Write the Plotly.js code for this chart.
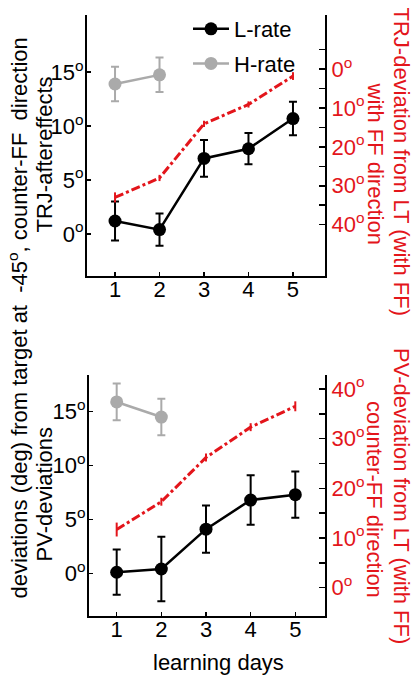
<!DOCTYPE html>
<html>
<head>
<meta charset="utf-8">
<script src="https://cdn.plot.ly/plotly-3.0.1.min.js"></script>
<style>html,body{margin:0;padding:0;background:#fff;}#chart{width:417px;height:679px;}</style>
</head>
<body>
<div id="chart"></div>
<script>
// ---- data ----
const days = [1, 2, 3, 4, 5];
const hDays = [1, 2];

// top panel: TRJ aftereffects (left axis) and TRJ-deviation (right, red)
const trjL = [1.2, 0.4, 7.0, 7.9, 10.7];
const trjLErr = [1.8, 1.5, 1.7, 1.45, 1.55];
const trjH = [13.9, 14.75];
const trjHErr = [1.6, 1.6];
const trjDev = [33.0, 28.0, 14.1, 9.1, 1.8];
const trjDevErr = [1.3, 0.8, 0.8, 0.8, 1.0];

// bottom panel: PV deviations (left axis) and PV-deviation (right, red)
const pvL = [0.1, 0.4, 4.1, 6.8, 7.3];
const pvLErr = [2.1, 3.0, 2.2, 2.3, 2.15];
const pvH = [15.9, 14.5];
const pvHErr = [1.7, 1.7];
const pvDev = [11.7, 17.3, 26.2, 32.3, 36.5];
const pvDevErr = [1.4, 0.8, 0.8, 0.8, 1.0];

// tick labels
const leftTickVals = [0, 5, 10, 15];
const leftTickText = ["0<sup>o</sup>", "5<sup>o</sup>", "10<sup>o</sup>", "15<sup>o</sup>"];
const rightTickVals = [0, 10, 20, 30, 40];
const rightTickText = ["0<sup>o</sup>", "10<sup>o</sup>", "20<sup>o</sup>", "30<sup>o</sup>", "40<sup>o</sup>"];
const topRightMinorVals = [-5, 5, 15, 25, 35];
const botRightMinorVals = [5, 15, 25, 35];

// ---- styling ----
const W = 417, H = 679;
const px = x => x / W;
const py = y => 1 - y / H;
const RED = "#e3151b";
const GRAY = "#aaaaaa";
const FONT = "Arial, 'Liberation Sans', sans-serif";
const FS = 22;

function redTrace(y, err, xa, ya) {
  return {x: days, y: y, xaxis: xa, yaxis: ya, type: "scatter", mode: "lines",
    line: {color: RED, width: 3, dash: "dashdot"}, showlegend: false,
    error_y: {type: "data", array: err, color: RED, thickness: 2, width: 0}};
}
function blackTrace(y, err, xa, ya, legend) {
  return {x: days, y: y, xaxis: xa, yaxis: ya, type: "scatter", mode: "lines+markers", name: "L-rate",
    legendgroup: "L", line: {color: "#000", width: 2.5}, marker: {color: "#000", size: 13},
    showlegend: legend,
    error_y: {type: "data", array: err, color: "#000", thickness: 2, width: 4}};
}
function grayTrace(y, err, xa, ya, legend) {
  return {x: hDays, y: y, xaxis: xa, yaxis: ya, type: "scatter", mode: "lines+markers", name: "H-rate",
    legendgroup: "H", line: {color: GRAY, width: 2.5}, marker: {color: GRAY, size: 13},
    showlegend: legend,
    error_y: {type: "data", array: err, color: GRAY, thickness: 2, width: 4}};
}

const traces = [
  redTrace(trjDev, trjDevErr, "x", "y2"),
  blackTrace(trjL, trjLErr, "x", "y", true),
  grayTrace(trjH, trjHErr, "x", "y", true),
  redTrace(pvDev, pvDevErr, "x2", "y4"),
  blackTrace(pvL, pvLErr, "x2", "y3", false),
  grayTrace(pvH, pvHErr, "x2", "y3", false)
];

const baseAxis = {showline: true, linecolor: "#000", linewidth: 2, ticks: "inside",
  tickcolor: "#000", tickwidth: 1.5, ticklen: 4, showgrid: false, zeroline: false,
  tickfont: {family: FONT, size: FS, color: "#000"}, fixedrange: true};

function rightAxis(over, range, minorVals) {
  return Object.assign({}, baseAxis, {overlaying: over, side: "right",
    anchor: over === "y" ? "x" : "x2", range: range, ticklen: 6,
    tickvals: rightTickVals, ticktext: rightTickText,
    tickfont: {family: FONT, size: FS, color: RED},
    minor: {tickmode: "array", tickvals: minorVals, ticks: "inside", ticklen: 6,
      tickwidth: 1.5, tickcolor: "#000", showgrid: false}});
}

const layout = {
  width: W, height: H,
  margin: {l: 0, r: 0, t: 0, b: 0},
  paper_bgcolor: "#fff", plot_bgcolor: "#fff",
  font: {family: FONT, size: FS, color: "#000"},
  showlegend: true,
  legend: {x: px(188), y: py(8), xanchor: "left", yanchor: "top",
    bgcolor: "rgba(0,0,0,0)", font: {family: FONT, size: FS, color: "#000"},
    tracegroupgap: 3, itemwidth: 36},
  xaxis: Object.assign({}, baseAxis, {domain: [px(87), px(325)], range: [0.37, 5.72],
    anchor: "y", tickvals: days, ticklabelstandoff: -7}),
  yaxis: Object.assign({}, baseAxis, {domain: [py(276), py(15)], range: [-3.9, 20.3],
    anchor: "x", tickvals: leftTickVals, ticktext: leftTickText, ticklabelstandoff: -3}),
  yaxis2: rightAxis("y", [53.2, -13.9], topRightMinorVals),
  xaxis2: Object.assign({}, baseAxis, {domain: [px(89), px(325)], range: [0.38, 5.665],
    anchor: "y3", tickvals: days, ticklabelstandoff: -7}),
  yaxis3: Object.assign({}, baseAxis, {domain: [py(616), py(375)], range: [-3.96, 18.4],
    anchor: "x2", tickvals: leftTickVals, ticktext: leftTickText, ticklabelstandoff: -3}),
  yaxis4: rightAxis("y3", [-5.7, 42.8], botRightMinorVals),
  annotations: [
    {text: "deviations (deg) from target at\u00a0\u00a0-45<sup>o</sup>, counter-FF\u00a0\u00a0direction",
      xref: "paper", yref: "paper", x: px(17.5), y: py(318), textangle: -90, showarrow: false,
      xanchor: "center", yanchor: "middle", font: {family: FONT, size: FS, color: "#000"}},
    {text: "TRJ-aftereffects", xref: "paper", yref: "paper", x: px(44), y: py(154.5), textangle: -90,
      showarrow: false, xanchor: "center", yanchor: "middle", font: {family: FONT, size: FS, color: "#000"}},
    {text: "PV-deviations", xref: "paper", yref: "paper", x: px(44), y: py(494.5), textangle: -90,
      showarrow: false, xanchor: "center", yanchor: "middle", font: {family: FONT, size: FS, color: "#000"}},
    {text: "TRJ-deviation from LT (with FF)", xref: "paper", yref: "paper", x: px(401), y: py(161.5), textangle: 90,
      showarrow: false, xanchor: "center", yanchor: "middle", font: {family: FONT, size: FS, color: RED}},
    {text: "with FF direction", xref: "paper", yref: "paper", x: px(375), y: py(163.5), textangle: 90,
      showarrow: false, xanchor: "center", yanchor: "middle", font: {family: FONT, size: FS, color: RED}},
    {text: "PV-deviation from LT (with FF)", xref: "paper", yref: "paper", x: px(402), y: py(496), textangle: 90,
      showarrow: false, xanchor: "center", yanchor: "middle", font: {family: FONT, size: FS, color: RED}},
    {text: "counter-FF direction", xref: "paper", yref: "paper", x: px(375), y: py(499), textangle: 90,
      showarrow: false, xanchor: "center", yanchor: "middle", font: {family: FONT, size: FS, color: RED}},
    {text: "learning days", xref: "paper", yref: "paper", x: px(219), y: py(662), showarrow: false,
      xanchor: "center", yanchor: "middle", font: {family: FONT, size: FS, color: "#000"}}
  ]
};

Plotly.newPlot("chart", traces, layout, {staticPlot: true, displayModeBar: false});
</script>
</body>
</html>
